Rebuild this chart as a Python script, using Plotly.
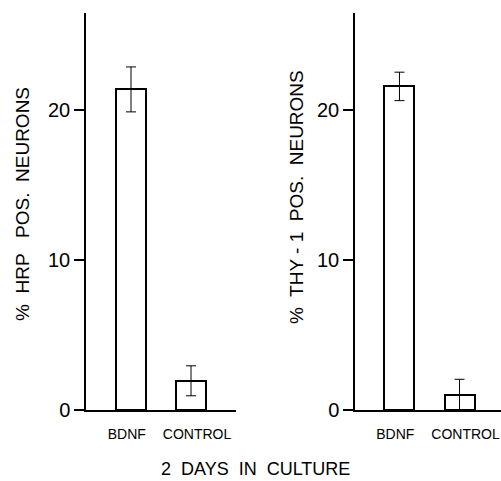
import plotly.graph_objects as go

categories = ["BDNF", "CONTROL"]
hrp_values = [21.4, 1.95]
hrp_errors = [1.5, 1.0]
thy_values = [21.6, 1.0]
thy_errors = [0.95, 1.05]
y_ticks = [0, 10, 20]
y_title_left = "%  HRP   POS.  NEURONS"
y_title_right = "%  THY - 1  POS.  NEURONS"
x_title = "2  DAYS  IN  CULTURE"

W, H = 501, 481
FONT = "Liberation Sans, Arial, sans-serif"

def px_x(p):
    return p / W

def px_y(p):
    return 1 - p / H

xs = list(range(len(categories)))
label_pos = [-0.07, 1.1]

fig = go.Figure()
for i, (vals, errs) in enumerate([(hrp_values, hrp_errors), (thy_values, thy_errors)]):
    ax = "" if i == 0 else "2"
    fig.add_trace(go.Bar(
        x=xs, y=vals, width=0.5,
        marker=dict(color="white", line=dict(color="black", width=2)),
        error_y=dict(type="data", array=errs, visible=True, color="black",
                     thickness=1, width=5),
        xaxis="x" + ax, yaxis="y" + ax, showlegend=False,
    ))

y_dom = [px_y(410), px_y(13)]
common_y = dict(range=[0, 26.5], tickvals=y_ticks, ticks="outside", ticklen=10,
                tickwidth=1.5, tickcolor="black", showline=True, linecolor="black",
                linewidth=1.5, showgrid=False, zeroline=False, automargin=False,
                tickfont=dict(family=FONT, size=20, color="black"), domain=y_dom)
common_x = dict(showline=True, linecolor="black", linewidth=1.5, showgrid=False,
                zeroline=False, ticks="", tickvals=label_pos, ticktext=categories,
                automargin=False, ticklabelstandoff=10,
                tickfont=dict(family=FONT, size=14, color="black"))

fig.update_layout(
    width=W, height=H, margin=dict(l=0, r=0, t=0, b=0, autoexpand=False),
    plot_bgcolor="white", paper_bgcolor="white",
    xaxis=dict(domain=[px_x(86), px_x(236)], range=[-0.75, 1.75], anchor="y", **common_x),
    yaxis=dict(anchor="x", **common_y),
    xaxis2=dict(domain=[px_x(355), 1.0], range=[-0.74, 1.69], anchor="y2", **common_x),
    yaxis2=dict(anchor="x2", **common_y),
    bargap=0,
)

ann_font = dict(family=FONT, size=19, color="black")
fig.add_annotation(x=px_x(22), y=px_y(204), xref="paper", yref="paper",
                   xanchor="center", yanchor="middle",
                   text=y_title_left, textangle=-90, showarrow=False, font=ann_font)
fig.add_annotation(x=px_x(297), y=px_y(197), xref="paper", yref="paper",
                   xanchor="center", yanchor="middle",
                   text=y_title_right, textangle=-90, showarrow=False, font=ann_font)
fig.add_annotation(x=px_x(255), y=px_y(469), xref="paper", yref="paper",
                   xanchor="center", yanchor="middle",
                   text=x_title, showarrow=False, font=dict(family=FONT, size=18, color="black"))

fig.write_html("out.html")
